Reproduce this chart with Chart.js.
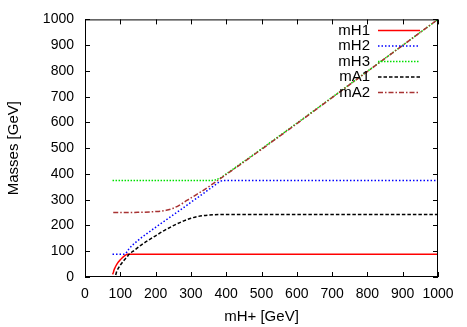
<!DOCTYPE html>
<html>
<head>
<meta charset="utf-8">
<script src="https://cdn.jsdelivr.net/npm/chart.js@4"></script>
<style>
  html, body { margin: 0; padding: 0; background: #fff; }
  #wrap { width: 467px; height: 327px; }
</style>
</head>
<body>
<div id="wrap"><canvas id="massChart" width="467" height="327"></canvas></div>
<script>
// mass spectrum vs charged Higgs mass

const seriesNames = ["mH1", "mH2", "mH3", "mA1", "mA2"];

const h1X = [78, 80, 82, 85, 90, 95, 100, 105, 110, 115, 120, 130, 1000];
const h1Y = [10, 16, 26, 36, 49, 59, 67, 74, 80, 85, 88, 88, 88];

const h2X = [78, 110, 114, 118, 125, 150, 175, 200, 225, 250, 275, 300, 325, 350, 370, 382, 392, 1000];
const h2Y = [88, 88, 90, 96, 110, 142, 168, 193, 217, 241, 265, 290, 314, 339, 359, 370, 375, 375];

const h3X = [78, 360, 372, 385, 400, 1000];
const h3Y = [375, 375, 378, 386, 400, 1000];

const a1X = [87, 90, 95, 100, 110, 120, 125, 140, 160, 180, 200, 220, 240, 260, 280, 300, 320, 350, 400, 1000];
const a1Y = [8, 22, 35, 46, 64, 80, 88, 104, 125, 143, 160, 177, 192, 206, 218, 228, 235, 240, 243, 243];

const a2X = [80, 150, 200, 230, 250, 270, 290, 310, 330, 350, 1000];
const a2Y = [250, 251, 254, 259, 267, 281, 298, 315, 332, 350, 1000];

const tickValues = [0, 100, 200, 300, 400, 500, 600, 700, 800, 900, 1000];

const FONT = "'Liberation Sans', Arial, sans-serif";

function pts(xs, ys) {
  return xs.map((x, i) => ({ x: x, y: ys[i] }));
}

const styles = [
  { color: "#ff0000", dash: [] },
  { color: "#0000ff", dash: [1.5, 2] },
  { color: "#00e000", dash: [1.5, 1.5] },
  { color: "#000000", dash: [3.5, 2] },
  { color: "#a83232", dash: [5, 2, 1.5, 2] }
];

const allX = [h1X, h2X, h3X, a1X, a2X];
const allY = [h1Y, h2Y, h3Y, a1Y, a2Y];

const datasets = seriesNames.map((name, i) => ({
  label: name,
  data: pts(allX[i], allY[i]),
  borderColor: styles[i].color,
  borderDash: styles[i].dash,
  borderWidth: 1.5,
  pointRadius: 0,
  fill: false,
  cubicInterpolationMode: "monotone",
  order: 5 - i
}));

// box, inward ticks and legend like gnuplot
const framePlugin = {
  id: "frame",
  afterDraw(chart) {
    const { ctx, chartArea: a, scales } = chart;
    ctx.save();
    ctx.strokeStyle = "#000";
    ctx.lineWidth = 1;
    ctx.setLineDash([]);
    ctx.strokeRect(a.left + 0.5, a.top + 0.5, a.right - a.left - 1, a.bottom - a.top - 1);
    const tl = 5;
    tickValues.forEach(v => {
      const px = Math.round(scales.x.getPixelForValue(v)) + 0.5;
      const py = Math.round(scales.y.getPixelForValue(v)) + 0.5;
      ctx.beginPath();
      ctx.moveTo(px, a.bottom); ctx.lineTo(px, a.bottom - tl);
      ctx.moveTo(px, a.top); ctx.lineTo(px, a.top + tl);
      ctx.moveTo(a.left, py); ctx.lineTo(a.left + tl, py);
      ctx.moveTo(a.right, py); ctx.lineTo(a.right - tl, py);
      ctx.stroke();
    });

    // legend
    ctx.font = "15px " + FONT;
    ctx.textAlign = "right";
    ctx.textBaseline = "middle";
    chart.data.datasets.forEach((ds, i) => {
      const y = 30.5 + i * 15.5;
      ctx.fillStyle = "#000";
      ctx.fillText(ds.label, 370, y);
      ctx.strokeStyle = ds.borderColor;
      ctx.lineWidth = 1.5;
      ctx.setLineDash(ds.borderDash);
      ctx.beginPath();
      ctx.moveTo(378, y);
      ctx.lineTo(420, y);
      ctx.stroke();
    });
    ctx.restore();
  }
};

new Chart(document.getElementById("massChart"), {
  type: "line",
  data: { datasets: datasets },
  options: {
    responsive: false,
    animation: false,
    layout: { padding: { left: 0, top: 18, right: 29, bottom: 0 } },
    plugins: { legend: { display: false }, tooltip: { enabled: false } },
    scales: {
      x: {
        type: "linear",
        min: 0,
        max: 1000,
        grid: { display: false, drawTicks: false },
        border: { display: false },
        afterBuildTicks: s => { s.ticks = tickValues.map(v => ({ value: v })); },
        afterFit: s => { s.height = 50; },
        ticks: { color: "#000", padding: 9, maxRotation: 0, autoSkip: false, font: { family: FONT, size: 14 }, callback: v => String(v) },
        title: { display: true, text: "mH+ [GeV]", color: "#000", padding: { top: 0, bottom: 1 }, font: { family: FONT, size: 15 } }
      },
      y: {
        type: "linear",
        min: 0,
        max: 1000,
        grid: { display: false, drawTicks: false },
        border: { display: false },
        afterBuildTicks: s => { s.ticks = tickValues.map(v => ({ value: v })); },
        afterFit: s => { s.width = 85; },
        ticks: { color: "#000", padding: 11, autoSkip: false, font: { family: FONT, size: 14 }, callback: v => String(v) },
        title: { display: true, text: "Masses [GeV]", color: "#000", padding: { top: 5, bottom: 0 }, font: { family: FONT, size: 15 } }
      }
    }
  },
  plugins: [framePlugin]
});
</script>
</body>
</html>
